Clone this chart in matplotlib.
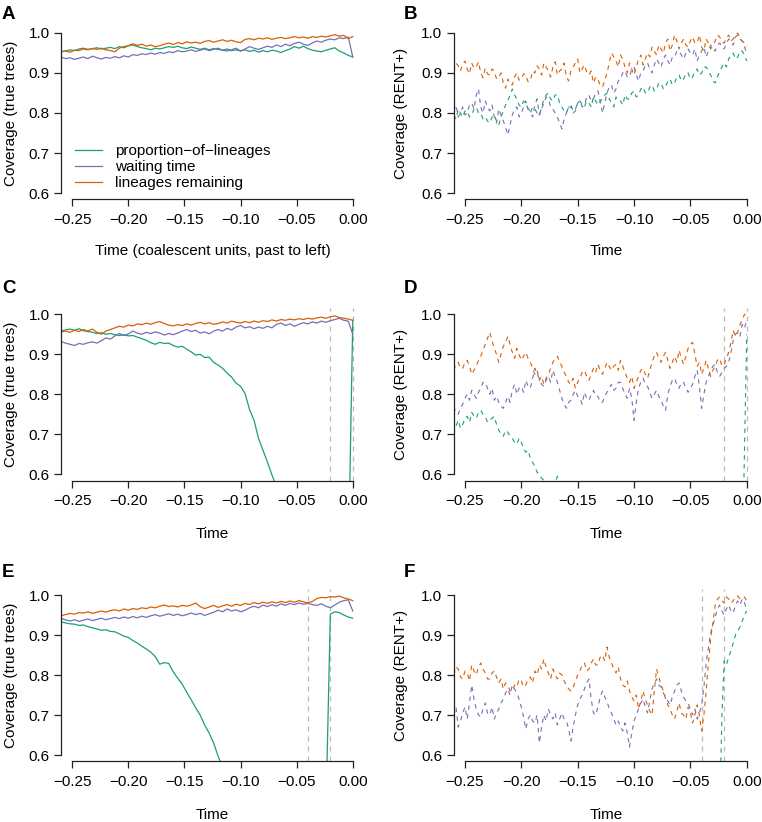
import numpy as np
import matplotlib
matplotlib.use("Agg")
import matplotlib.pyplot as plt

plt.rcParams['font.family'] = ['Liberation Sans', 'DejaVu Sans']

nan = np.nan

# sampled time grids (coalescent units, past to left)
time = np.linspace(-0.26, 0.0, 66)        # true-tree panels
time_fine = np.linspace(-0.26, 0.0, 131)  # RENT+ panels

series_names = ["proportion\u2212of\u2212lineages", "waiting time", "lineages remaining"]
xtick_vals = [-0.25, -0.20, -0.15, -0.10, -0.05, 0.00]
xtick_labels = ["\u22120.25", "\u22120.20", "\u22120.15", "\u22120.10", "\u22120.05", "0.00"]
ytick_vals = [0.6, 0.7, 0.8, 0.9, 1.0]
ytick_labels = ["0.6", "0.7", "0.8", "0.9", "1.0"]

# ---------------- Panel A (true trees) ----------------
A_green = [0.953, 0.955, 0.958, 0.956, 0.960, 0.962, 0.959, 0.961, 0.963, 0.960,
           0.962, 0.964, 0.961, 0.966, 0.963, 0.968, 0.970, 0.966, 0.963, 0.961,
           0.958, 0.962, 0.960, 0.963, 0.966, 0.964, 0.967, 0.963, 0.961, 0.965,
           0.962, 0.959, 0.962, 0.958, 0.961, 0.959, 0.957, 0.960, 0.956, 0.958,
           0.955, 0.958, 0.954, 0.957, 0.952, 0.956, 0.953, 0.957, 0.955, 0.951,
           0.956, 0.960, 0.966, 0.962, 0.967, 0.961, 0.957, 0.955, 0.953, 0.957,
           0.960, 0.963, 0.955, 0.950, 0.944, 0.940]
A_purple = [0.940, 0.936, 0.938, 0.934, 0.937, 0.940, 0.936, 0.942, 0.938, 0.935,
            0.939, 0.937, 0.941, 0.938, 0.943, 0.940, 0.946, 0.944, 0.948, 0.946,
            0.950, 0.947, 0.951, 0.949, 0.953, 0.951, 0.956, 0.953, 0.955, 0.958,
            0.954, 0.957, 0.960, 0.956, 0.959, 0.962, 0.957, 0.955, 0.958, 0.962,
            0.955, 0.960, 0.966, 0.962, 0.959, 0.963, 0.967, 0.964, 0.970, 0.966,
            0.972, 0.968, 0.974, 0.977, 0.972, 0.969, 0.975, 0.980, 0.977, 0.982,
            0.985, 0.983, 0.988, 0.986, 0.990, 0.940]
A_orange = [0.953, 0.955, 0.952, 0.957, 0.956, 0.960, 0.958, 0.961, 0.959, 0.962,
            0.958, 0.956, 0.953, 0.962, 0.966, 0.968, 0.973, 0.969, 0.972, 0.967,
            0.970, 0.966, 0.968, 0.972, 0.975, 0.971, 0.976, 0.973, 0.978, 0.975,
            0.977, 0.974, 0.979, 0.981, 0.977, 0.980, 0.983, 0.979, 0.982, 0.978,
            0.976, 0.984, 0.986, 0.983, 0.987, 0.985, 0.988, 0.984, 0.987, 0.989,
            0.986, 0.988, 0.991, 0.988, 0.990, 0.987, 0.991, 0.989, 0.992, 0.990,
            0.993, 0.996, 0.992, 0.994, 0.986, 0.991]

# ---------------- Panel B (RENT+) ----------------
B_green = [0.795, 0.785, 0.810, 0.800, 0.790, 0.805, 0.805, 0.790, 0.795, 0.810,
           0.815, 0.800, 0.800, 0.785, 0.790, 0.780, 0.775, 0.790, 0.795, 0.780,
           0.770, 0.790, 0.805, 0.820, 0.830, 0.845, 0.860, 0.845, 0.835, 0.820,
           0.815, 0.830, 0.825, 0.810, 0.800, 0.815, 0.810, 0.800, 0.795, 0.815,
           0.835, 0.845, 0.850, 0.835, 0.830, 0.845, 0.845, 0.825, 0.815, 0.805,
           0.800, 0.815, 0.820, 0.805, 0.810, 0.825, 0.830, 0.820, 0.815, 0.830,
           0.825, 0.815, 0.840, 0.830, 0.820, 0.830, 0.835, 0.845, 0.850, 0.835,
           0.825, 0.815, 0.840, 0.830, 0.830, 0.820, 0.845, 0.835, 0.835, 0.850,
           0.855, 0.840, 0.845, 0.860, 0.865, 0.850, 0.850, 0.865, 0.870, 0.855,
           0.860, 0.875, 0.875, 0.860, 0.865, 0.880, 0.885, 0.870, 0.875, 0.890,
           0.895, 0.880, 0.885, 0.900, 0.900, 0.885, 0.890, 0.905, 0.910, 0.895,
           0.900, 0.915, 0.915, 0.905, 0.895, 0.880, 0.875, 0.890, 0.905, 0.915,
           0.925, 0.915, 0.935, 0.945, 0.950, 0.935, 0.940, 0.955, 0.955, 0.945,
           0.930]
B_purple = [0.805, 0.820, 0.790, 0.800, 0.815, 0.795, 0.800, 0.820, 0.825, 0.810,
            0.845, 0.860, 0.815, 0.800, 0.830, 0.815, 0.805, 0.820, 0.790, 0.775,
            0.810, 0.795, 0.780, 0.765, 0.745, 0.770, 0.795, 0.810, 0.815, 0.790,
            0.800, 0.815, 0.830, 0.810, 0.805, 0.790, 0.820, 0.835, 0.795, 0.810,
            0.825, 0.840, 0.835, 0.815, 0.810, 0.800, 0.790, 0.775, 0.760, 0.785,
            0.800, 0.815, 0.815, 0.800, 0.805, 0.825, 0.830, 0.815, 0.820, 0.840,
            0.845, 0.830, 0.835, 0.850, 0.855, 0.830, 0.800, 0.825, 0.850, 0.865,
            0.870, 0.850, 0.860, 0.880, 0.885, 0.900, 0.905, 0.890, 0.890, 0.910,
            0.915, 0.895, 0.880, 0.900, 0.905, 0.920, 0.925, 0.910, 0.900, 0.920,
            0.935, 0.925, 0.915, 0.935, 0.945, 0.930, 0.920, 0.940, 0.940, 0.955,
            0.955, 0.945, 0.935, 0.950, 0.960, 0.950, 0.945, 0.960, 0.930, 0.945,
            0.955, 0.965, 0.940, 0.955, 0.970, 0.960, 0.955, 0.970, 0.975, 0.965,
            0.960, 0.975, 0.985, 0.975, 0.970, 0.990, 0.995, 0.985, 0.980, 0.965,
            0.950]
B_orange = [0.905, 0.925, 0.918, 0.905, 0.922, 0.930, 0.910, 0.898, 0.925, 0.912,
            0.915, 0.928, 0.900, 0.888, 0.912, 0.898, 0.895, 0.910, 0.905, 0.885,
            0.890, 0.900, 0.875, 0.862, 0.885, 0.872, 0.870, 0.890, 0.900, 0.882,
            0.885, 0.898, 0.895, 0.878, 0.880, 0.905, 0.900, 0.918, 0.910, 0.895,
            0.925, 0.915, 0.905, 0.890, 0.915, 0.928, 0.895, 0.905, 0.910, 0.925,
            0.890, 0.880, 0.905, 0.915, 0.925, 0.935, 0.900, 0.910, 0.920, 0.902,
            0.895, 0.905, 0.875, 0.890, 0.885, 0.868, 0.865, 0.880, 0.900, 0.925,
            0.950, 0.940, 0.930, 0.915, 0.945, 0.935, 0.915, 0.900, 0.925, 0.910,
            0.895, 0.915, 0.935, 0.945, 0.920, 0.935, 0.950, 0.940, 0.965, 0.955,
            0.945, 0.970, 0.960, 0.950, 0.975, 0.985, 0.955, 0.970, 0.995, 0.980,
            0.960, 0.975, 0.985, 0.970, 0.965, 0.980, 0.990, 0.975, 0.975, 0.995,
            0.965, 0.955, 0.985, 0.975, 0.960, 0.970, 0.980, 0.995, 0.990, 0.978,
            0.975, 0.988, 0.995, 0.980, 0.985, 0.995, 1.000, 0.985, 0.980, 0.975,
            0.965]

# ---------------- Panel C (true trees) ----------------
C_green = [0.958, 0.961, 0.963, 0.960, 0.964, 0.959, 0.957, 0.955, 0.952, 0.954,
           0.950, 0.952, 0.949, 0.947, 0.949, 0.946, 0.947, 0.943, 0.939, 0.935,
           0.929, 0.925, 0.930, 0.927, 0.928, 0.922, 0.918, 0.920, 0.913, 0.906,
           0.898, 0.900, 0.892, 0.893, 0.880, 0.873, 0.865, 0.853, 0.843, 0.828,
           0.820, 0.802, 0.762, 0.735, 0.690, 0.660, 0.630, 0.598, 0.570, nan,
           nan, nan, nan, nan, nan, nan, nan, nan, nan, nan,
           nan, nan, nan, nan, 0.370, 0.985]
C_purple = [0.932, 0.928, 0.925, 0.922, 0.927, 0.925, 0.929, 0.931, 0.928, 0.934,
            0.941, 0.938, 0.946, 0.952, 0.947, 0.951, 0.958, 0.953, 0.950, 0.955,
            0.952, 0.956, 0.953, 0.948, 0.952, 0.949, 0.953, 0.958, 0.962, 0.957,
            0.960, 0.953, 0.956, 0.951, 0.958, 0.962, 0.958, 0.965, 0.961, 0.968,
            0.972, 0.966, 0.969, 0.964, 0.968, 0.965, 0.970, 0.966, 0.975, 0.978,
            0.972, 0.976, 0.970, 0.975, 0.979, 0.976, 0.981, 0.978, 0.983, 0.980,
            0.984, 0.987, 0.990, 0.985, 0.983, 0.950]
C_orange = [0.956, 0.958, 0.955, 0.960, 0.957, 0.962, 0.958, 0.963, 0.955, 0.950,
            0.958, 0.962, 0.966, 0.970, 0.968, 0.973, 0.971, 0.976, 0.974, 0.978,
            0.975, 0.979, 0.982, 0.977, 0.973, 0.971, 0.974, 0.972, 0.976, 0.973,
            0.977, 0.980, 0.976, 0.979, 0.975, 0.977, 0.981, 0.978, 0.983, 0.980,
            0.978, 0.982, 0.979, 0.983, 0.980, 0.984, 0.982, 0.986, 0.983, 0.987,
            0.985, 0.988, 0.986, 0.989, 0.987, 0.990, 0.988, 0.991, 0.993, 0.990,
            0.994, 0.996, 0.992, 0.990, 0.988, 0.985]

# ---------------- Panel D (RENT+) ----------------
D_green = [0.700, 0.720, 0.735, 0.715, 0.725, 0.740, 0.745, 0.730, 0.755, 0.745,
           0.740, 0.755, 0.760, 0.750, 0.745, 0.730, 0.735, 0.740, 0.745, 0.725,
           0.710, 0.700, 0.695, 0.710, 0.705, 0.695, 0.690, 0.680, 0.675, 0.690,
           0.680, 0.665, 0.655, 0.660, 0.640, 0.630, 0.620, 0.605, 0.600, 0.590,
           0.585, 0.575, 0.575, 0.565, 0.570, 0.580, 0.595, 0.580, 0.570, nan,
           nan, nan, nan, nan, nan, nan, nan, nan, nan, nan,
           nan, nan, nan, nan, nan, nan, nan, nan, nan, nan,
           nan, nan, nan, nan, nan, nan, nan, nan, nan, nan,
           nan, nan, nan, nan, nan, nan, nan, nan, nan, nan,
           nan, nan, nan, nan, nan, nan, nan, nan, nan, nan,
           nan, nan, nan, nan, nan, nan, nan, nan, nan, nan,
           nan, nan, nan, nan, nan, nan, nan, nan, nan, nan,
           nan, nan, nan, nan, nan, nan, nan, nan, 0.370, 0.660,
           0.950]
D_purple = [0.770, 0.755, 0.750, 0.765, 0.775, 0.790, 0.800, 0.785, 0.810, 0.800,
            0.790, 0.805, 0.815, 0.830, 0.830, 0.815, 0.800, 0.815, 0.785, 0.795,
            0.780, 0.770, 0.765, 0.780, 0.795, 0.780, 0.810, 0.825, 0.800, 0.815,
            0.820, 0.805, 0.835, 0.820, 0.815, 0.840, 0.865, 0.850, 0.840, 0.825,
            0.820, 0.835, 0.845, 0.830, 0.860, 0.845, 0.830, 0.810, 0.790, 0.775,
            0.765, 0.780, 0.785, 0.800, 0.810, 0.795, 0.790, 0.775, 0.805, 0.790,
            0.785, 0.800, 0.810, 0.795, 0.795, 0.780, 0.780, 0.795, 0.805, 0.815,
            0.825, 0.810, 0.815, 0.830, 0.830, 0.815, 0.800, 0.790, 0.815, 0.790,
            0.735, 0.780, 0.815, 0.830, 0.840, 0.825, 0.820, 0.805, 0.790, 0.800,
            0.810, 0.795, 0.785, 0.770, 0.760, 0.800, 0.820, 0.835, 0.840, 0.825,
            0.815, 0.830, 0.830, 0.815, 0.805, 0.815, 0.825, 0.845, 0.860, 0.820,
            0.765, 0.800, 0.830, 0.845, 0.860, 0.870, 0.875, 0.855, 0.845, 0.855,
            0.865, 0.870, 0.880, 0.905, 0.935, 0.950, 0.955, 0.945, 0.975, 0.965,
            0.985]
D_orange = [0.860, 0.875, 0.880, 0.865, 0.865, 0.880, 0.885, 0.870, 0.850, 0.860,
            0.870, 0.885, 0.895, 0.910, 0.925, 0.940, 0.955, 0.935, 0.915, 0.900,
            0.880, 0.900, 0.920, 0.930, 0.945, 0.925, 0.905, 0.890, 0.915, 0.900,
            0.885, 0.895, 0.905, 0.890, 0.880, 0.865, 0.850, 0.860, 0.835, 0.845,
            0.825, 0.840, 0.850, 0.865, 0.880, 0.890, 0.895, 0.880, 0.870, 0.855,
            0.845, 0.830, 0.825, 0.840, 0.815, 0.830, 0.840, 0.855, 0.860, 0.845,
            0.835, 0.850, 0.865, 0.855, 0.875, 0.860, 0.850, 0.865, 0.880, 0.870,
            0.860, 0.870, 0.875, 0.860, 0.885, 0.870, 0.855, 0.840, 0.830, 0.845,
            0.815, 0.830, 0.845, 0.860, 0.865, 0.850, 0.840, 0.860, 0.880, 0.895,
            0.905, 0.890, 0.880, 0.895, 0.905, 0.885, 0.865, 0.880, 0.895, 0.880,
            0.910, 0.890, 0.875, 0.895, 0.915, 0.925, 0.930, 0.900, 0.870, 0.880,
            0.850, 0.865, 0.885, 0.865, 0.845, 0.860, 0.870, 0.885, 0.890, 0.870,
            0.875, 0.890, 0.905, 0.930, 0.960, 0.945, 0.955, 0.975, 0.985, 1.000,
            0.995]

# ---------------- Panel E (true trees) ----------------
E_green = [0.933, 0.930, 0.928, 0.927, 0.924, 0.925, 0.921, 0.918, 0.915, 0.912,
           0.913, 0.909, 0.908, 0.903, 0.897, 0.894, 0.886, 0.880, 0.872, 0.865,
           0.857, 0.846, 0.827, 0.831, 0.829, 0.808, 0.792, 0.777, 0.757, 0.738,
           0.718, 0.700, 0.675, 0.655, 0.630, 0.597, 0.570, nan, nan, nan,
           nan, nan, nan, nan, nan, nan, nan, nan, nan, nan,
           nan, nan, nan, nan, nan, nan, nan, nan, nan, 0.450,
           0.952, 0.958, 0.956, 0.950, 0.945, 0.942]
E_purple = [0.942, 0.938, 0.935, 0.938, 0.934, 0.937, 0.940, 0.936, 0.939, 0.942,
            0.938, 0.941, 0.944, 0.941, 0.945, 0.942, 0.946, 0.943, 0.947, 0.944,
            0.948, 0.951, 0.947, 0.950, 0.953, 0.949, 0.952, 0.948, 0.951, 0.955,
            0.951, 0.954, 0.949, 0.953, 0.957, 0.962, 0.958, 0.965, 0.960, 0.963,
            0.958, 0.962, 0.968, 0.972, 0.968, 0.975, 0.971, 0.976, 0.972, 0.978,
            0.974, 0.979, 0.976, 0.980, 0.977, 0.979, 0.976, 0.974, 0.978, 0.972,
            0.968, 0.975, 0.982, 0.986, 0.988, 0.960]
E_orange = [0.948, 0.951, 0.954, 0.952, 0.956, 0.955, 0.958, 0.954, 0.957, 0.960,
            0.957, 0.961, 0.963, 0.960, 0.965, 0.962, 0.966, 0.964, 0.968, 0.966,
            0.970, 0.968, 0.972, 0.975, 0.971, 0.973, 0.970, 0.974, 0.972, 0.975,
            0.980, 0.971, 0.966, 0.970, 0.974, 0.969, 0.973, 0.976, 0.972, 0.977,
            0.974, 0.979, 0.976, 0.981, 0.978, 0.982, 0.979, 0.983, 0.980, 0.984,
            0.981, 0.985, 0.982, 0.986, 0.983, 0.980, 0.984, 0.991, 0.994, 0.993,
            0.996, 0.995, 0.997, 0.993, 0.990, 0.986]

# ---------------- Panel F (RENT+) ----------------
F_green = [nan, nan, nan, nan, nan, nan, nan, nan, nan, nan,
           nan, nan, nan, nan, nan, nan, nan, nan, nan, nan,
           nan, nan, nan, nan, nan, nan, nan, nan, nan, nan,
           nan, nan, nan, nan, nan, nan, nan, nan, nan, nan,
           nan, nan, nan, nan, nan, nan, nan, nan, nan, nan,
           nan, nan, nan, nan, nan, nan, nan, nan, nan, nan,
           nan, nan, nan, nan, nan, nan, nan, nan, nan, nan,
           nan, nan, nan, nan, nan, nan, nan, nan, nan, nan,
           nan, nan, nan, nan, nan, nan, nan, nan, nan, nan,
           nan, nan, nan, nan, nan, nan, nan, nan, nan, nan,
           nan, nan, nan, nan, nan, nan, nan, nan, nan, nan,
           nan, nan, nan, nan, nan, nan, nan, nan, 0.450, 0.700,
           0.835, 0.825, 0.845, 0.860, 0.880, 0.900, 0.910, 0.920, 0.935, 0.950,
           0.960]
F_purple = [0.700, 0.720, 0.670, 0.685, 0.705, 0.720, 0.690, 0.730, 0.775, 0.740,
            0.715, 0.700, 0.695, 0.715, 0.730, 0.705, 0.700, 0.720, 0.690, 0.705,
            0.715, 0.730, 0.740, 0.755, 0.765, 0.750, 0.775, 0.765, 0.755, 0.740,
            0.720, 0.695, 0.665, 0.690, 0.700, 0.685, 0.680, 0.700, 0.630, 0.670,
            0.700, 0.685, 0.715, 0.700, 0.690, 0.705, 0.675, 0.690, 0.705, 0.690,
            0.685, 0.665, 0.635, 0.670, 0.700, 0.725, 0.740, 0.750, 0.765, 0.780,
            0.790, 0.740, 0.705, 0.700, 0.720, 0.745, 0.760, 0.745, 0.735, 0.715,
            0.705, 0.690, 0.675, 0.685, 0.670, 0.660, 0.680, 0.655, 0.620, 0.655,
            0.685, 0.700, 0.715, 0.730, 0.740, 0.720, 0.705, 0.735, 0.765, 0.780,
            0.790, 0.775, 0.770, 0.755, 0.745, 0.735, 0.725, 0.745, 0.760, 0.775,
            0.780, 0.760, 0.745, 0.735, 0.730, 0.715, 0.700, 0.715, 0.690, 0.705,
            0.725, 0.770, 0.830, 0.870, 0.905, 0.925, 0.945, 0.965, 0.975, 0.960,
            0.950, 0.965, 0.975, 0.960, 0.955, 0.975, 0.985, 0.975, 0.990, 0.980,
            0.965]
F_orange = [0.800, 0.820, 0.815, 0.795, 0.790, 0.810, 0.805, 0.785, 0.825, 0.810,
            0.800, 0.820, 0.830, 0.815, 0.805, 0.790, 0.790, 0.805, 0.810, 0.795,
            0.780, 0.790, 0.765, 0.780, 0.775, 0.760, 0.760, 0.775, 0.770, 0.790,
            0.785, 0.770, 0.775, 0.790, 0.795, 0.780, 0.810, 0.800, 0.825, 0.815,
            0.840, 0.820, 0.805, 0.790, 0.815, 0.800, 0.790, 0.805, 0.800, 0.785,
            0.775, 0.765, 0.760, 0.770, 0.785, 0.800, 0.810, 0.825, 0.830, 0.810,
            0.815, 0.830, 0.840, 0.825, 0.825, 0.845, 0.850, 0.835, 0.870, 0.845,
            0.830, 0.815, 0.805, 0.820, 0.790, 0.775, 0.770, 0.785, 0.760, 0.745,
            0.735, 0.750, 0.715, 0.735, 0.760, 0.740, 0.725, 0.710, 0.700, 0.760,
            0.815, 0.795, 0.775, 0.760, 0.740, 0.725, 0.715, 0.700, 0.690, 0.710,
            0.730, 0.705, 0.700, 0.690, 0.720, 0.705, 0.680, 0.700, 0.725, 0.700,
            0.660, 0.700, 0.760, 0.830, 0.890, 0.930, 0.975, 0.990, 0.995, 0.985,
            0.980, 0.995, 0.990, 0.980, 0.985, 0.995, 0.998, 0.990, 0.990, 0.995,
            0.985]

# grey reference lines (time points) per panel
C_vlines = [-0.02, 0.0]
D_vlines = [-0.02, 0.0]
E_vlines = [-0.04, -0.02]
F_vlines = [-0.04, -0.02]

colors = ["#1B9E77", "#7570B3", "#D95F02"]

W, H = 762.0, 822.0
col_left = [61.0, 453.7]
col_width = [303.0, 304.3]
row_top = [26.6, 307.9, 588.6]
row_h = 172.8
xlab_off = [-0.299, -0.31, -0.31]
letter_base = [19.0, 293.0, 577.0]
letter_x = [2.0, 404.0]

panels = [
    ("A", 0, 0, time, (A_green, A_purple, A_orange), "-", "Coverage (true trees)",
     "Time (coalescent units, past to left)", []),
    ("B", 0, 1, time_fine, (B_green, B_purple, B_orange), "--", "Coverage (RENT+)", "Time", []),
    ("C", 1, 0, time, (C_green, C_purple, C_orange), "-", "Coverage (true trees)", "Time", C_vlines),
    ("D", 1, 1, time_fine, (D_green, D_purple, D_orange), "--", "Coverage (RENT+)", "Time", D_vlines),
    ("E", 2, 0, time, (E_green, E_purple, E_orange), "-", "Coverage (true trees)", "Time", E_vlines),
    ("F", 2, 1, time_fine, (F_green, F_purple, F_orange), "--", "Coverage (RENT+)", "Time", F_vlines),
]

fig = plt.figure(figsize=(W / 100, H / 100), dpi=100)
FS = 11

for letter, r, c, tx, ys, ls, ylab, xlab, vlines in panels:
    left = col_left[c] / W
    bottom = 1 - (row_top[r] + row_h) / H
    ax = fig.add_axes([left, bottom, col_width[c] / W, row_h / H])
    for xv in vlines:
        ax.axvline(xv, color="#b8b8b8", lw=0.9, linestyle=(0, (4, 4)), zorder=1)
    lines = []
    for y, col, name in zip(ys, colors, series_names):
        if ls == "-":
            ln, = ax.plot(tx, y, color=col, lw=0.9, label=name, zorder=2)
        else:
            ln, = ax.plot(tx, y, color=col, lw=0.8, linestyle=(0, (4, 4)),
                          label=name, zorder=2)
        lines.append(ln)
    ax.set_xlim(-0.26, 0.01)
    ax.set_ylim(0.584, 1.016)
    for s in ("top", "right"):
        ax.spines[s].set_visible(False)
    ax.spines["left"].set_bounds(0.6, 1.0)
    ax.spines["bottom"].set_bounds(-0.25, 0.0)
    for s in ("left", "bottom"):
        ax.spines[s].set_linewidth(0.9)
        ax.spines[s].set_color("#222222")
    ax.set_xticks(xtick_vals)
    ax.set_xticklabels(xtick_labels)
    ax.set_yticks(ytick_vals)
    ax.set_yticklabels(ytick_labels)
    ax.tick_params(axis="both", direction="out", length=5.2, width=0.9,
                   color="#222222", labelsize=FS)
    ax.tick_params(axis="x", pad=4.5)
    ax.tick_params(axis="y", pad=3)
    ylx = (11.0 - col_left[c]) / col_width[c] if c == 0 else (401.0 - col_left[c]) / col_width[c]
    ax.text(ylx, 0.5, ylab, transform=ax.transAxes, rotation=90,
            ha="center", va="center", fontsize=FS)
    ax.text(0.5, xlab_off[r], xlab, transform=ax.transAxes,
            ha="center", va="center", fontsize=FS)
    fig.text(letter_x[c] / W, 1 - letter_base[r] / H, letter, fontsize=13.5,
             fontweight="bold", ha="left", va="baseline")
    if letter == "A":
        ax.legend(handles=lines, loc="lower left", bbox_to_anchor=(0.046, 0.055),
                  frameon=False, borderpad=0, borderaxespad=0, handlelength=1.8,
                  handletextpad=0.85, labelspacing=0.12, fontsize=FS)

fig.savefig("out.png", dpi=100)
